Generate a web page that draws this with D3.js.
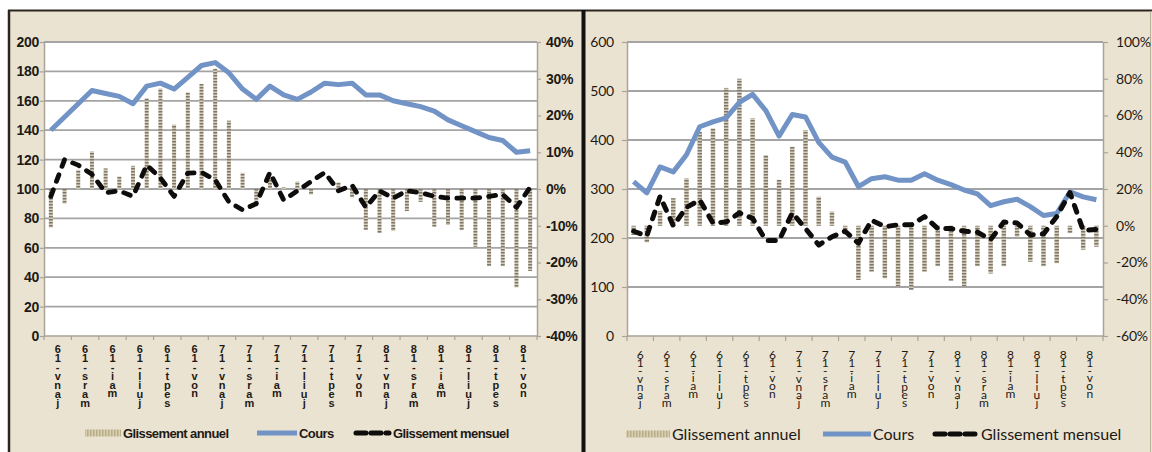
<!DOCTYPE html>
<html>
<head>
<meta charset="utf-8">
<script src="https://cdn.jsdelivr.net/npm/d3@7"></script>
<style>
  html, body { margin: 0; padding: 0; background: #fff; }
  svg { display: block; }
  .cat { writing-mode: vertical-rl; text-orientation: upright; direction: rtl; unicode-bidi: bidi-override; }
</style>
</head>
<body>
<svg id="chart" width="1152" height="452"></svg>
<script>
// ---- data ---------------------------------------------------------------
const monthNames = ["janv", "févr", "mars", "avr", "mai", "juin", "juil", "août", "sept", "oct", "nov", "déc"];
const years = ["16", "17", "18"];
const categories = years.flatMap(y => monthNames.map(m => m + "-" + y));
const tickLabels = years.flatMap(y => ["janv", "mars", "mai", "juil", "sept", "nov"].map(m => m + "-" + y));

// left chart
const coursLeft = [140, 149, 158, 167, 165, 163, 158, 170, 172, 168, 176, 184,
                   186, 179, 168, 161, 170, 164, 161, 166, 172, 171, 172, 164,
                   164, 160, 158, 156, 153, 147, 143, 139, 135, 133, 125, 126];
const annuelLeft = [-0.105, -0.04, 0.052, 0.102, 0.056, 0.034, 0.063, 0.247, 0.273, 0.175, 0.263, 0.286,
                    0.327, 0.186, 0.044, -0.035, 0.03, 0.005, 0.02, -0.015, 0.0, 0.018, -0.023, -0.112,
                    -0.12, -0.114, -0.06, -0.035, -0.103, -0.098, -0.112, -0.157, -0.21, -0.21, -0.268, -0.223];
const mensuelLeft = [-0.02, 0.08, 0.065, 0.04, -0.01, -0.005, -0.02, 0.065, 0.03, -0.02, 0.043, 0.045,
                     0.025, -0.035, -0.057, -0.04, 0.045, -0.03, -0.005, 0.02, 0.045, -0.005, 0.01, -0.05,
                     -0.005, -0.025, -0.005, -0.01, -0.02, -0.025, -0.025, -0.025, -0.02, -0.015, -0.05, 0.005];

// right chart
const coursRight = [315, 292, 345, 335, 370, 427, 437, 445, 477, 493, 460, 408,
                    452, 447, 395, 365, 355, 305, 321, 325, 318, 318, 331, 318,
                    309, 298, 290, 266, 274, 279, 264, 246, 250, 294, 284, 278];
const annuelRight = [-0.05, -0.09, 0.08, 0.15, 0.258, 0.51, 0.53, 0.75, 0.80, 0.585, 0.385, 0.25,
                     0.43, 0.52, 0.158, 0.077, -0.04, -0.295, -0.25, -0.286, -0.33, -0.35, -0.25, -0.22,
                     -0.30, -0.33, -0.22, -0.26, -0.22, -0.06, -0.196, -0.22, -0.204, -0.04, -0.13, -0.114];
const mensuelRight = [-0.03, -0.055, 0.16, 0.0, 0.10, 0.14, 0.015, 0.02, 0.07, 0.04, -0.08, -0.08,
                      0.07, -0.015, -0.105, -0.06, -0.03, -0.095, 0.03, -0.005, 0.005, 0.005, 0.05, -0.015,
                      -0.015, -0.03, -0.035, -0.075, 0.02, 0.015, -0.05, -0.045, 0.05, 0.18, -0.025, -0.02];

const legendLabels = ["Glissement annuel", "Cours", "Glissement mensuel"];

// ---- frame --------------------------------------------------------------
const svg = d3.select("#chart");
const defs = svg.append("defs");

// beaded texture of the annual-change columns
const pat = defs.append("pattern")
  .attr("id", "beads").attr("patternUnits", "userSpaceOnUse")
  .attr("width", 6).attr("height", 3);
pat.append("rect").attr("width", 6).attr("height", 3).attr("fill", "#d6cdb8");
pat.append("rect").attr("width", 6).attr("height", 1.5).attr("fill", "#7f776a");

const patL = defs.append("pattern")
  .attr("id", "beadsLegend").attr("patternUnits", "userSpaceOnUse")
  .attr("width", 3).attr("height", 3);
patL.append("rect").attr("width", 3).attr("height", 3).attr("fill", "#d8cfae");
patL.append("rect").attr("width", 1.5).attr("height", 3).attr("fill", "#b9ae8c");

svg.append("rect").attr("x", 0).attr("y", 0).attr("width", 1152).attr("height", 452).attr("fill", "#ffffff");
svg.append("rect").attr("x", 9).attr("y", 10).attr("width", 1143).attr("height", 442).attr("fill", "#ebe3d1");
svg.append("line").attr("x1", 8).attr("x2", 1152).attr("y1", 10.5).attr("y2", 10.5)
  .attr("stroke", "#2c251e").attr("stroke-width", 2);
svg.append("line").attr("x1", 9).attr("x2", 9).attr("y1", 10).attr("y2", 452)
  .attr("stroke", "#2c251e").attr("stroke-width", 2.5);
svg.append("line").attr("x1", 583.5).attr("x2", 583.5).attr("y1", 10).attr("y2", 452)
  .attr("stroke", "#111").attr("stroke-width", 4);
svg.append("line").attr("x1", 1150.5).attr("x2", 1150.5).attr("y1", 11).attr("y2", 452)
  .attr("stroke", "#b9b09a").attr("stroke-width", 1);

const pct = v => Math.round(v * 100) + "%";

function drawPanel(cfg, cours, annuel, mensuel) {
  const g = svg.append("g");
  const x = d3.scaleBand().domain(categories).range([cfg.x0, cfg.x1]).padding(0);
  const cx = d => x(d) + x.bandwidth() / 2;
  const yL = d3.scaleLinear().domain([0, cfg.leftMax]).range([cfg.yB, cfg.yT]);
  const yR = d3.scaleLinear().domain([cfg.rMin, cfg.rMax]).range([cfg.yB, cfg.yT]);

  // plot area
  g.append("rect").attr("x", cfg.x0).attr("y", cfg.yT)
    .attr("width", cfg.x1 - cfg.x0).attr("height", cfg.yB - cfg.yT).attr("fill", "#ffffff");

  const leftTicks = d3.range(0, cfg.leftMax + cfg.leftStep / 2, cfg.leftStep);
  g.append("g").selectAll("line").data(leftTicks.slice(1)).join("line")
    .attr("x1", cfg.x0).attr("x2", cfg.x1)
    .attr("y1", d => yL(d)).attr("y2", d => yL(d))
    .attr("stroke", "#a4a4a4").attr("stroke-width", 1.8);

  // left axis
  const axL = g.append("g").attr("transform", `translate(${cfg.x0},0)`)
    .call(d3.axisLeft(yL).tickValues(leftTicks).tickSize(cfg.tickSize).tickPadding(cfg.leftPad).tickSizeOuter(0));
  // right axis
  const rightTicks = d3.range(cfg.rMin, cfg.rMax + cfg.rStep / 2, cfg.rStep);
  const axR = g.append("g").attr("transform", `translate(${cfg.x1},0)`)
    .call(d3.axisRight(yR).tickValues(rightTicks).tickFormat(pct).tickSize(cfg.tickSize).tickPadding(cfg.rightPad).tickSizeOuter(0));
  [axL, axR].forEach(ax => {
    ax.select(".domain").attr("stroke", "#a9a398").attr("stroke-width", 1.5);
    ax.selectAll(".tick line").attr("stroke", "#a9a398").attr("stroke-width", 1.2);
    ax.selectAll(".tick text")
      .attr("font-family", cfg.font).attr("font-size", cfg.tickFontSize)
      .attr("font-weight", cfg.tickWeight).attr("letter-spacing", cfg.tickSpacing)
      .attr("fill", "#1d1a16");
  });

  // category axis
  g.append("line").attr("x1", cfg.x0).attr("x2", cfg.x1).attr("y1", cfg.yB).attr("y2", cfg.yB)
    .attr("stroke", "#a9a398").attr("stroke-width", 1.5);
  const tickCats = categories.filter((c, i) => i % 2 === 0);
  const tickXs = tickCats.map(c => x(c)).concat([cfg.x1]);
  g.append("g").selectAll("line").data(tickXs).join("line")
    .attr("x1", d => d).attr("x2", d => d).attr("y1", cfg.yB).attr("y2", cfg.yB + cfg.tickSize)
    .attr("stroke", "#a9a398").attr("stroke-width", 1.2);

  // stacked category labels, read from the bottom up
  g.append("g").selectAll("text").data(tickLabels).join("text")
    .attr("class", "cat")
    .attr("x", (d, i) => x(tickCats[i]) + x.bandwidth())
    .attr("y", cfg.catY)
    .attr("text-anchor", "end")
    .attr("textLength", d => d.length * cfg.catStep)
    .attr("lengthAdjust", "spacing")
    .attr("font-family", cfg.font).attr("font-size", cfg.catFontSize)
    .attr("font-weight", cfg.tickWeight)
    .attr("fill", "#1d1a16")
    .text(d => d);

  // annual change columns
  g.append("g").selectAll("rect").data(annuel).join("rect")
    .attr("x", (d, i) => cx(categories[i]) - cfg.barW / 2)
    .attr("y", d => Math.min(yR(d), yR(0)))
    .attr("width", cfg.barW)
    .attr("height", d => Math.abs(yR(d) - yR(0)))
    .attr("fill", "url(#beads)");

  // price line
  g.append("path").datum(cours)
    .attr("d", d3.line().x((d, i) => cx(categories[i])).y(d => yL(d)))
    .attr("fill", "none").attr("stroke", "#7193c6").attr("stroke-width", cfg.lineW)
    .attr("stroke-linejoin", "round");

  // monthly change line
  g.append("path").datum(mensuel)
    .attr("d", d3.line().x((d, i) => cx(categories[i])).y(d => yR(d)))
    .attr("fill", "none").attr("stroke", "#0e0d0c").attr("stroke-width", cfg.dashW)
    .attr("stroke-dasharray", cfg.dash).attr("stroke-linecap", "round").attr("stroke-linejoin", "round");

  // legend
  const lg = g.append("g");
  const ly = cfg.legendY;
  const L = cfg.legend;
  lg.append("rect").attr("x", L[0][0]).attr("y", ly - 3.5).attr("width", L[0][1] - L[0][0]).attr("height", 7)
    .attr("fill", "url(#beadsLegend)");
  lg.append("line").attr("x1", L[1][0]).attr("x2", L[1][1]).attr("y1", ly).attr("y2", ly)
    .attr("stroke", "#7193c6").attr("stroke-width", 5);
  lg.append("line").attr("x1", L[2][0] + 3).attr("x2", L[2][1] - 2).attr("y1", ly).attr("y2", ly)
    .attr("stroke", "#0e0d0c").attr("stroke-width", 5).attr("stroke-dasharray", "10,5")
    .attr("stroke-linecap", "round");
  legendLabels.forEach((t, i) => {
    lg.append("text").attr("x", L[i][1] + 2).attr("y", ly + cfg.legendFontSize * 0.36)
      .attr("font-family", cfg.font).attr("font-size", cfg.legendFontSize)
      .attr("font-weight", cfg.legendWeight).attr("letter-spacing", cfg.legendSpacing)
      .attr("fill", "#1d1a16").text(t);
  });
}

drawPanel({
  x0: 44, x1: 537, yT: 42, yB: 336,
  leftMax: 200, leftStep: 20, rMin: -0.4, rMax: 0.4, rStep: 0.1,
  tickSize: 4, leftPad: 1, rightPad: 5,
  font: "'Liberation Sans Narrow', 'Liberation Sans', Arial, sans-serif",
  tickFontSize: 14, tickWeight: "bold", tickSpacing: -0.3,
  catFontSize: 11, catY: 343, catStep: 9.4,
  barW: 4, lineW: 5, dashW: 4.8, dash: "7,9",
  legendY: 433, legend: [[85, 121], [257, 297], [353, 391]],
  legendFontSize: 13, legendWeight: "bold", legendSpacing: -0.6
}, coursLeft, annuelLeft, mensuelLeft);

drawPanel({
  x0: 627, x1: 1103, yT: 42, yB: 336,
  leftMax: 600, leftStep: 100, rMin: -0.6, rMax: 1.0, rStep: 0.2,
  tickSize: 5, leftPad: 8, rightPad: 8,
  font: "Lato, 'Open Sans', sans-serif",
  tickFontSize: 14, tickWeight: "normal", tickSpacing: -0.2,
  catFontSize: 12, catY: 347, catStep: 9,
  barW: 4.5, lineW: 5, dashW: 5, dash: "7,9",
  legendY: 434, legend: [[626, 670], [823, 871], [932, 979]],
  legendFontSize: 16, legendWeight: "normal", legendSpacing: 0
}, coursRight, annuelRight, mensuelRight);
</script>
</body>
</html>
